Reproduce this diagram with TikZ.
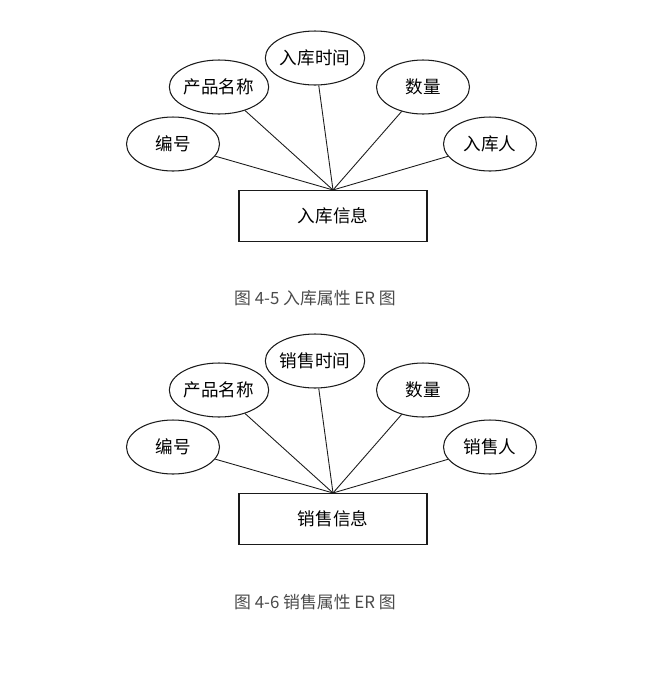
\documentclass[tikz,border=0pt]{standalone}
\usepackage{fontspec}
\newfontfamily\cjk{Noto Sans CJK SC}
\usetikzlibrary{shapes.geometric}
\definecolor{InkBlack}{HTML}{1A1A1A}
\definecolor{CapGray}{HTML}{4A4A4A}
\tikzset{
  attr/.style={ellipse, draw=InkBlack, line width=0.6pt, minimum width=1.86cm, minimum height=1.08cm, inner sep=0pt, font=\cjk\fontsize{10}{12}\selectfont},
  entity/.style={draw=InkBlack, line width=0.6pt, minimum width=3.76cm, minimum height=1.02cm, inner sep=0pt, font=\cjk\fontsize{10}{12}\selectfont},
  link/.style={draw=InkBlack, line width=0.5pt},
  caption/.style={text=CapGray, inner sep=0pt, font=\cjk\fontsize{9.6}{11}\selectfont}
}
\begin{document}
\begin{tikzpicture}[x=0.02cm, y=-0.02cm]
\useasboundingbox (0,0) rectangle (648,674);
% 入库属性
\node[entity] (rkxx) at (333,216) {入库信息};
\node[attr] (rkbh) at (173,144) {编号};
\node[attr] (rkmc) at (219,87) {产品名称};
\node[attr] (rksj) at (315,58) {入库时间};
\node[attr] (rksl) at (423,87) {数量};
\node[attr] (rkr) at (490,144) {入库人};
\foreach \a in {rkbh, rkmc, rksj, rksl, rkr}
  \draw[link] (rkxx.north) -- (\a);
\node[caption] (cap1) at (315,298) {图 4-5 入库属性 ER 图};
% 销售属性
\node[entity] (xsxx) at (333,519) {销售信息};
\node[attr] (xsbh) at (173,447) {编号};
\node[attr] (xsmc) at (219,390) {产品名称};
\node[attr] (xssj) at (315,361) {销售时间};
\node[attr] (xssl) at (423,390) {数量};
\node[attr] (xsr) at (490,447) {销售人};
\foreach \a in {xsbh, xsmc, xssj, xssl, xsr}
  \draw[link] (xsxx.north) -- (\a);
\node[caption] (cap2) at (315,602) {图 4-6 销售属性 ER 图};
\end{tikzpicture}
\end{document}
